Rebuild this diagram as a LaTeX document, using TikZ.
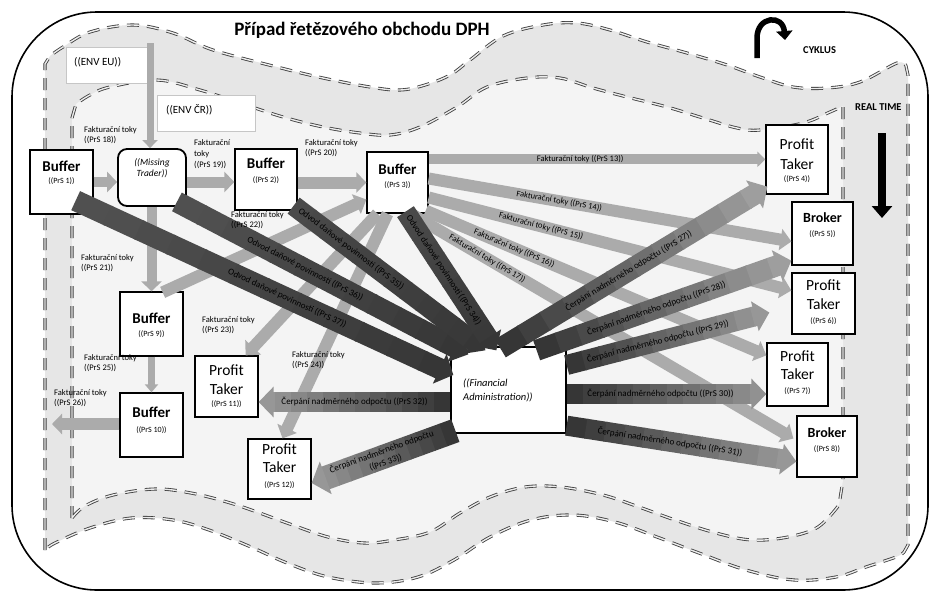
\documentclass[tikz,border=0pt]{standalone}
\usepackage{fontspec}
\setmainfont{Carlito}
\usetikzlibrary{arrows.meta,calc}
\definecolor{darkc}{HTML}{363636}
\definecolor{lightc}{HTML}{B8B8B8}
\definecolor{larrc}{HTML}{ABABAB}
\definecolor{bandc}{HTML}{E6E6E6}
\definecolor{innerc}{HTML}{F4F4F4}
\definecolor{dashc}{HTML}{3F3F3F}

\newcommand\gradarr[6]{%
  \foreach \i in {0,...,11}{%
    \pgfmathsetmacro\ta{\i/12}%
    \pgfmathsetmacro\tb{min(1,(\i+1)/12+0.005)}%
    \pgfmathtruncatemacro\pc{#3+(#4-#3)*\i/11}%
    \ifnum\i<11\relax
      \draw[line width=#5, draw=darkc!\pc!lightc] ($(#1)!\ta!(#2)$) -- ($(#1)!\tb!(#2)$);%
    \else
      \draw[line width=#5, draw=darkc!\pc!lightc, -{Triangle[length=15pt,width=#6]}] ($(#1)!\ta!(#2)$) -- (#2);%
    \fi
  }%
}
\newcommand\bufl[4]{\node[tbold] (#1t) at ($(#1.north)+(0,#3)$) {Buffer};\node[tprs] (#1p) at ($(#1.north)+(0,#4)$) {((PrS #2))};}
\newcommand\brol[4]{\node[tbro] (#1t) at ($(#1.north)+(0,#3)$) {Broker};\node[tprs] (#1p) at ($(#1.north)+(0,#4)$) {((PrS #2))};}
\newcommand\ptkl[5]{\node[treg] (#1t) at ($(#1.north)+(0,#3)$) {Profit};\node[treg] (#1u) at ($(#1.north)+(0,#4)$) {Taker};\node[tprs] (#1p) at ($(#1.north)+(0,#5)$) {((PrS #2))};}

\begin{document}
\begin{tikzpicture}[x=1pt,y=-1pt,
  box/.style={draw=black, line width=1.3pt, fill=white, inner sep=0pt},
  envbox/.style={draw=gray!45, line width=0.7pt, fill=white, inner sep=0pt},
  loopline/.style={draw=dashc, line width=0.85pt, double=gray!15, double distance=1.4pt, dash pattern=on 12pt off 8pt},
  la/.style={draw=larrc, line width=#1},
  tA/.style={-{Triangle[length=10pt,width=20pt]}},
  tB/.style={-{Triangle[length=11pt,width=21pt]}},
  tbold/.style={anchor=base, inner sep=0pt, font=\fontsize{15}{15}\selectfont\bfseries},
  tbro/.style={anchor=base, inner sep=0pt, font=\fontsize{14}{15}\selectfont\bfseries},
  treg/.style={anchor=base, inner sep=0pt, font=\fontsize{15.5}{15}\selectfont},
  tprs/.style={anchor=base, inner sep=0pt, font=\fontsize{8}{9}\selectfont},
  flab/.style={anchor=north west, inner sep=0pt, align=left, font=\fontsize{8.5}{10}\selectfont},
  ilab/.style={inner sep=0pt, sloped, font=\fontsize{8.5}{9}\selectfont},
  dlab/.style={inner sep=0pt, sloped, font=\fontsize{9}{11.5}\selectfont, align=center},
]
\useasboundingbox (0,0) rectangle (936,597);
\fill[white] (0,0) rectangle (936,597);
\draw[line width=1.6pt, rounded corners=85pt, fill=white] (12,12) rectangle (928,590);

% outer loop (band)
\path[fill=bandc, loopline] (45,550) -- (45,64) -- plot[smooth,tension=0.6] coordinates {(50,56) (63,47) (90,32) (133,25) (173,33) (213,50) (277,67) (323,78) (370,87) (400,90) (425,85) (450,75) (470,60) (503,36) (543,25) (577,23) (610,30) (647,42) (687,53) (727,65) (760,77) (793,87) (827,88) (860,82) (897,63) (906,66)} -- (908,75) -- (908,545) -- plot[smooth,tension=0.6] coordinates {(904,552) (896,557) (866,567) (836,577) (794,580) (746,570) (699,553) (657,537) (615,522) (573,515) (531,520) (490,537) (454,560) (418,577) (376,583) (328,577) (287,563) (251,547) (209,530) (173,520) (131,518) (90,528) (55,543) (45,550)} -- cycle;
% inner loop
\path[fill=innerc, loopline] (72,518) -- (72,118) -- plot[smooth,tension=0.6] coordinates {(76,104) (90,95) (110,87) (157,80) (200,90) (240,103) (283,117) (323,127) (360,133) (390,135) (420,127) (457,107) (487,87) (527,78) (560,78) (593,88) (627,97) (667,107) (703,118) (737,128) (760,130) (803,123) (830,112) (843,106)} -- (843,480) -- plot[smooth,tension=0.6] coordinates {(839,505) (818,527) (788,537) (752,540) (716,533) (675,520) (639,507) (603,495) (561,487) (525,487) (490,497) (460,513) (430,532) (394,540) (364,543) (328,537) (287,523) (257,512) (227,502) (191,493) (155,489) (113,495) (85,506) (72,518)} -- cycle;

% environment boxes
\node[envbox, minimum width=82pt, minimum height=36pt] (enveu) at (107,65) {};
\node[anchor=base west, inner sep=0pt, font=\fontsize{11}{12}\selectfont] (enveut) at (74,65) {((ENV EU))};
\node[envbox, minimum width=98pt, minimum height=36pt] (envcr) at (206,113) {};
\node[anchor=base west, inner sep=0pt, font=\fontsize{11}{12}\selectfont] (envcrt) at (166,113) {((ENV ČR))};

% title, cycle, real time
\node[anchor=base, inner sep=0pt, font=\fontsize{19}{20}\selectfont\bfseries] (title) at (362,35) {Případ řetězového obchodu DPH};
\coordinate (cy1) at (757,58);
\coordinate (cy2) at (785,40);
\draw[line width=5.5pt, -{Triangle[length=9pt,width=16pt]}] (cy1) -- (757,38) .. controls (757,16) and (783,14) .. (cy2);
\node[anchor=base west, inner sep=0pt, font=\fontsize{10.5}{12}\selectfont\bfseries] (cyk) at (803,53) {CYKLUS};
\node[anchor=base west, inner sep=0pt, font=\fontsize{10.5}{12}\selectfont\bfseries] (rtime) at (855,110) {REAL TIME};
\coordinate (rt1) at (882,133);
\coordinate (rt2) at (882,218);
\draw[line width=8pt, -{Triangle[length=12pt,width=20pt]}] (rt1) -- (rt2);

% boxes
\node[box, minimum width=63pt, minimum height=64pt] (b1) at (61.5,182) {};
\node[box, line width=1.8pt, rounded corners=9pt, minimum width=68pt, minimum height=57pt] (mt) at (152,177.5) {};
\node[box, minimum width=62pt, minimum height=61pt] (b2) at (266,179.5) {};
\node[box, minimum width=61pt, minimum height=61pt] (b3) at (397.5,182.5) {};
\node[box, minimum width=62pt, minimum height=69pt] (pt4) at (797,159.5) {};
\node[box, minimum width=61pt, minimum height=63pt] (br5) at (822.5,233.5) {};
\node[box, minimum width=63pt, minimum height=61pt] (pt6) at (823.5,303.5) {};
\node[box, minimum width=61pt, minimum height=63pt] (pt7) at (797.5,374.5) {};
\node[box, minimum width=60pt, minimum height=61pt] (br8) at (827,446.5) {};
\node[box, minimum width=63pt, minimum height=64pt] (b9) at (151.5,324) {};
\node[box, minimum width=63pt, minimum height=64pt] (b10) at (151.5,425) {};
\node[box, minimum width=63pt, minimum height=61pt] (pt11) at (226.5,386.5) {};
\node[box, minimum width=63pt, minimum height=60pt] (pt12) at (279.5,469) {};
\node[box, minimum width=115pt, minimum height=86pt] (fa) at (508.5,390) {};

% light arrows (Fakturacni toky)
\coordinate (eutop) at (150,43);
\draw[la=7pt, -{Triangle[length=8pt,width=15pt]}] (eutop) -- (eutop |- mt.north);
\draw[la=10pt, tA] (b9.north |- mt.south) -- (b9.north);
\draw[la=10pt, tA] (b1.east) -- (b1.east -| mt.west);
\draw[la=11pt, tA] ($(mt.east)+(0,4.5)$) -- ($(b2.west)+(0,2.5)$);
\draw[la=12pt, tA] ($(b2.east)+(0,3)$) -- (b3.west);
\coordinate (l13a) at ($(b3.north east)+(0,8)$);
\coordinate (l13b) at ($(pt4.north west)+(0,35)$);
\draw[la=10pt, -{Triangle[length=8pt,width=15pt]}] (l13a) -- (l13b);
\coordinate (l14a) at ($(b3.east)+(0,-4)$);
\coordinate (l14b) at ($(br5.west)+(0,8)$);
\draw[la=12pt, tB] (l14a) -- (l14b);
\coordinate (l15a) at ($(b3.east)+(0,15)$);
\coordinate (l15b) at ($(pt6.west)+(0,-13)$);
\draw[la=12pt, tB] (l15a) -- (l15b);
\coordinate (l16a) at ($(b3.south east)+(-3,-3)$);
\coordinate (l16b) at ($(pt7.north west)+(0,13)$);
\draw[la=12pt, tB] (l16a) -- (l16b);
\coordinate (l17a) at ($(b3.south east)+(-18,0)$);
\coordinate (l17b) at ($(br8.west)+(-3,-8)$);
\draw[la=12pt, tB] (l17a) -- (l17b);
\coordinate (l22a) at ($(b9.north east)+(-21,1)$);
\coordinate (l22b) at ($(b3.west)+(0,17)$);
\draw[la=12pt, tB] (l22a) -- (l22b);
\coordinate (l23a) at ($(b3.south)+(-20,0)$);
\coordinate (l23b) at ($(pt11.north east)+(-13,0)$);
\draw[la=12pt, tB] (l23a) -- (l23b);
\coordinate (l24a) at ($(b3.south)+(-10,0)$);
\coordinate (l24b) at ($(pt12.north)+(3,0)$);
\draw[la=12pt, tB] (l24a) -- (l24b);
\draw[la=7pt, -{Triangle[length=8pt,width=13pt]}] (b10.north |- b9.south) -- (b10.north);
\coordinate (outl) at (52,424);
\draw[la=12pt, tA] ($(b10.west)+(0,-1)$) -- (outl);

% dark arrows
\coordinate (d1a) at ($(b1.south east)+(-18,-14)$);
\coordinate (d1b) at ($(fa.west)+(3,-15)$);
\coordinate (d2a) at ($(mt.south east)+(-10,-5)$);
\coordinate (d2b) at ($(fa.north west)+(18,8)$);
\coordinate (d3a) at ($(b2.south east)+(-4,-5)$);
\coordinate (d3b) at ($(fa.north west)+(35,4)$);
\coordinate (d4a) at ($(b3.south)+(8,-2)$);
\coordinate (d4b) at ($(fa.north west)+(46,4)$);
\gradarr{d1a}{d1b}{80}{100}{21pt}{32pt}
\gradarr{d2a}{d2b}{80}{100}{21pt}{32pt}
\gradarr{d3a}{d3b}{85}{100}{20pt}{30pt}
\gradarr{d4a}{d4b}{85}{100}{20pt}{30pt}
\coordinate (d5a) at ($(fa.north west)+(50,2)$);
\coordinate (d5b) at ($(pt4.south west)+(2,-8)$);
\coordinate (d6a) at ($(fa.north east)+(-30,4)$);
\coordinate (d6b) at ($(br5.south west)+(0,-5)$);
\coordinate (d7a) at ($(fa.east)+(0,-25)$);
\coordinate (d7b) at ($(pt6.west)+(-22,9)$);
\coordinate (d8a) at ($(fa.east)+(0,4)$);
\coordinate (d8b) at (pt7.west |- d8a);
\coordinate (d9a) at ($(fa.south east)+(0,-8)$);
\coordinate (d9b) at ($(br8.west)+(0,15)$);
\coordinate (d10a) at ($(fa.west)+(0,12)$);
\coordinate (d10b) at (pt11.east |- d10a);
\coordinate (d11a) at ($(fa.south west)+(5,-3)$);
\coordinate (d11b) at ($(pt12.east)+(0,14)$);
\gradarr{d5a}{d5b}{100}{20}{21pt}{32pt}
\gradarr{d6a}{d6b}{100}{20}{21pt}{32pt}
\gradarr{d7a}{d7b}{100}{25}{20pt}{30pt}
\gradarr{d8a}{d8b}{100}{30}{20pt}{30pt}
\gradarr{d9a}{d9b}{100}{25}{20pt}{30pt}
\gradarr{d10a}{d10b}{100}{25}{20pt}{30pt}
\gradarr{d11a}{d11b}{100}{25}{24pt}{34pt}

% labels on light arrows
\path (l13a) -- (l13b) node[ilab, pos=0.45] (t13) {Fakturační toky ((PrS 13))};
\path (l14a) -- (l14b) node[ilab, pos=0.36] (t14) {Fakturační toky ((PrS 14))};
\path (l15a) -- (l15b) node[ilab, pos=0.31] (t15) {Fakturační toky ((PrS 15))};
\path (l16a) -- (l16b) node[ilab, pos=0.26] (t16) {Fakturační toky ((PrS 16))};
\path (l17a) -- (l17b) node[ilab, pos=0.20] (t17) {Fakturační toky ((PrS 17))};
\node[flab] (t18) at (84,126) {Fakturační toky\\((PrS 18))};
\node[flab, font=\fontsize{8.5}{11}\selectfont] (t19) at (194,139) {Fakturační\\toky\\((PrS 19))};
\node[flab] (t20) at (305,139) {Fakturační toky\\((PrS 20))};
\node[flab] (t21) at (81,254) {Fakturační toky\\((PrS 21))};
\node[flab] (t22) at (231,211) {Fakturační toky\\((PrS 22))};
\node[flab] (t23) at (202,316) {Fakturační toky\\((PrS 23))};
\node[flab] (t24) at (292,351) {Fakturační toky\\((PrS 24))};
\node[flab] (t25) at (84,354) {Fakturační toky\\((PrS 25))};
\node[flab] (t26) at (54,389) {Fakturační toky\\((PrS 26))};

% labels on dark arrows
\path (d5a) -- (d5b) node[dlab, pos=0.48] (t27) {Čerpání nadměrného odpočtu ((PrS 27))};
\path (d6a) -- (d6b) node[dlab, pos=0.47] (t28) {Čerpání nadměrného odpočtu ((PrS 28))};
\path (d7a) -- (d7b) node[dlab, pos=0.45] (t29) {Čerpání nadměrného odpočtu ((PrS 29))};
\path (d8a) -- (d8b) node[dlab, pos=0.47] (t30) {Čerpání nadměrného odpočtu ((PrS 30))};
\path (d9a) -- (d9b) node[dlab, pos=0.45] (t31) {Čerpání nadměrného odpočtu ((PrS 31))};
\path (d10a) -- (d10b) node[dlab, pos=0.5] (t32) {Čerpání nadměrného odpočtu ((PrS 32))};
\path (d11a) -- (d11b) node[dlab, pos=0.5] (t33) {Čerpání nadměrného odpočtu\\((PrS 33))};
\path (d4a) -- (d4b) node[dlab, pos=0.42] (t34) {Odvod daňové povinnosti ((PrS 34))};
\path (d3a) -- (d3b) node[dlab, pos=0.30] (t35) {Odvod daňové povinnosti ((PrS 35))};
\path (d2a) -- (d2b) node[dlab, pos=0.44] (t36) {Odvod daňové povinnosti ((PrS 36))};
\path (d1a) -- (d1b) node[dlab, pos=0.56] (t37) {Odvod daňové povinnosti ((PrS 37))};

% box texts
\bufl{b1}{1}{22}{34}
\node[inner sep=0pt, align=center, font=\fontsize{9.5}{11}\selectfont\itshape] (mtt) at (152,168) {((Missing\\Trader))};
\bufl{b2}{2}{20}{34}
\bufl{b3}{3}{23}{36}
\ptkl{pt4}{4}{25}{45}{57}
\brol{br5}{5}{21}{35}
\ptkl{pt6}{6}{18}{37}{51}
\ptkl{pt7}{7}{19}{37}{51}
\brol{br8}{8}{22}{36}
\bufl{b9}{9}{32}{45}
\bufl{b10}{10}{25}{40}
\ptkl{pt11}{11}{20}{39}{51}
\ptkl{pt12}{12}{16}{34}{49}
\node[anchor=west, inner sep=0pt, align=left, font=\fontsize{10.5}{14}\selectfont\itshape] (fat) at (463,390) {((Financial\\Administration))};
\end{tikzpicture}
\end{document}
